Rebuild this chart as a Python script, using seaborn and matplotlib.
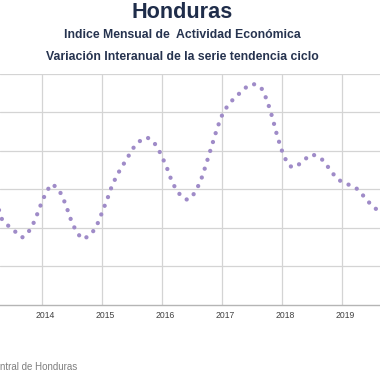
import pandas as pd
import matplotlib.pyplot as plt
import matplotlib.transforms as mtransforms
import seaborn as sns

# monthly observations, Apr 2013 - Sep 2019
dates = pd.date_range("2013-04-01", "2019-09-01", freq="MS")

# year-on-year variation of the trend-cycle series (%)
variacion = [
    2.62, 2.22, 2.08, 1.97, 1.86, 1.75, 1.84, 2.04, 2.35,              # 2013
    2.70, 2.98, 3.14, 3.04, 2.85, 2.50, 2.13, 1.87, 1.71, 1.76, 1.87, 2.08,  # 2014
    2.41, 2.75, 3.09, 3.37, 3.59, 3.80, 4.03, 4.20, 4.30, 4.35, 4.27, 4.11,  # 2015
    3.84, 3.53, 3.19, 2.95, 2.80, 2.73, 2.81, 3.03, 3.34, 3.75, 4.18, 4.60,  # 2016
    4.95, 5.17, 5.31, 5.44, 5.56, 5.68, 5.74, 5.72, 5.60, 5.30, 4.87, 4.38,  # 2017
    3.97, 3.67, 3.57, 3.61, 3.72, 3.83, 3.91, 3.86, 3.77, 3.61, 3.43, 3.27,  # 2018
    3.19, 3.13, 3.10, 3.01, 2.87, 2.72, 2.56, 2.47, 2.36,              # 2019
]

year_ticks = pd.to_datetime(["2014-01-01", "2015-01-01", "2016-01-01",
                             "2017-01-01", "2018-01-01", "2019-01-01"])
year_labels = ["2014", "2015", "2016", "2017", "2018", "2019"]
y_grid = [1, 2, 3, 4, 5, 6]

sns.set_style("white")
plt.rcParams["font.family"] = ["Liberation Sans", "DejaVu Sans"]

fig = plt.figure(figsize=(3.8, 3.8), dpi=100)
ax = fig.add_axes([0, 75.3 / 380, 1, 230.7 / 380])

# dotted trend line
sns.lineplot(
    x=dates,
    y=variacion,
    ax=ax,
    color="#9f8bc8",
    linewidth=3.1,
    linestyle=(0, (0.01, 2.15)),
    dash_capstyle="round",
)

ax.set_xlim(pd.Timestamp("2013-04-19"), pd.Timestamp("2019-08-18"))
ax.set_ylim(0, 6)
ax.set_xticks(year_ticks)
ax.set_xticklabels(year_labels)
ax.set_yticks(y_grid)
ax.set_yticklabels([])
ax.set_xlabel("")
ax.set_ylabel("")

ax.grid(True, color="#d4d4d4", linewidth=0.9)
for side in ["left", "right", "top"]:
    ax.spines[side].set_visible(False)
ax.spines["bottom"].set_color("#b5b5b5")
ax.spines["bottom"].set_linewidth(1)
ax.tick_params(length=0, labelsize=6.2, colors="#404040", pad=4.2)

# labels sit slightly right of the year gridlines
shift = mtransforms.ScaledTranslation(3 / 100, 0, fig.dpi_scale_trans)
for label in ax.get_xticklabels():
    label.set_transform(label.get_transform() + shift)

# titles
fig.text(182.5 / 380, 1 - 18.5 / 380, "Honduras", ha="center", va="baseline",
         fontsize=15.6, fontweight="bold", color="#1f2d4a")
fig.text(182.5 / 380, 1 - 37.5 / 380, "Indice Mensual de  Actividad Económica",
         ha="center", va="baseline", fontsize=8.8, fontweight="bold", color="#26334f")
fig.text(182.5 / 380, 1 - 59.5 / 380, "Variación Interanual de la serie tendencia ciclo",
         ha="center", va="baseline", fontsize=8.8, fontweight="bold", color="#26334f")

# source note (cut at the left edge)
fig.text(0, 1 - 370 / 380, "ntral de Honduras", ha="left", va="baseline",
         fontsize=7, color="#7f7f7f")

fig.savefig("out.png", dpi=100)
